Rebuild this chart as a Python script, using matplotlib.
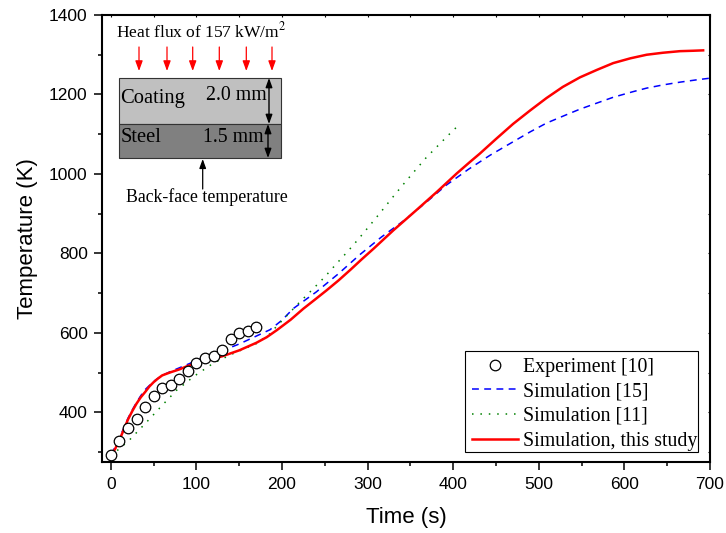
import matplotlib
matplotlib.use('Agg')
import matplotlib.pyplot as plt
from matplotlib.patches import Rectangle
from matplotlib.transforms import Affine2D
from matplotlib.ticker import MultipleLocator

# values
exp_time = [0, 10, 20, 30, 40, 50, 60, 70, 80, 90, 100, 110, 120, 130, 140, 150, 160, 170]
exp_temp = [292, 329, 361, 383, 414, 440, 462, 469, 483, 504, 524, 538, 543, 557, 584, 599, 604, 615]

sim15_time = [0, 5, 10, 15, 20, 25, 30, 35, 40, 50, 60, 70, 80, 100, 130, 150, 170, 186, 200, 213, 240, 266, 291, 316, 342, 367, 392, 418,
              443, 470, 490, 509, 530, 548, 570, 587, 610, 626, 645, 665, 685, 700]
sim15_temp = [295, 312, 335, 360, 385, 406, 425, 442, 457, 478, 493, 503, 512, 530, 555, 572, 592, 608, 632, 661, 703, 749, 797, 841, 882, 926, 972, 1012,
              1047, 1081, 1106, 1128, 1147, 1163, 1180, 1193, 1207, 1216, 1224, 1231, 1237, 1241]

sim11_time = [0, 22, 42, 61, 77, 98, 120, 143, 170, 186, 193, 205, 220, 235, 250, 264, 278, 290, 302, 315, 328, 341, 354, 368, 383, 394, 405]
sim11_temp = [290, 331, 376, 420, 456, 492, 524, 548, 573, 598, 615, 642, 676, 708, 741, 775, 808, 838, 869, 903, 938, 972, 1005, 1040, 1073, 1097, 1120]

this_time = [0, 5, 10, 15, 20, 25, 30, 35, 40, 45, 50, 55, 60, 70, 80, 90, 110, 130, 150, 170, 182, 194, 210, 225, 238, 252, 266, 280, 293, 307, 330, 357, 381, 404, 420,
             431, 450, 470, 490, 509, 528, 548, 568, 587, 607, 626, 645, 665, 680, 692]
this_temp = [290, 308, 330, 356, 382, 403, 422, 438, 451, 465, 476, 485, 493, 501, 508, 517, 530, 541, 556, 575, 589, 607, 633, 661, 683, 707, 732, 759, 785, 812, 858, 909, 955, 1001, 1031,
             1051, 1088, 1126, 1160, 1191, 1219, 1243, 1262, 1279, 1291, 1300, 1305, 1309, 1310, 1311]

xticks = [0, 100, 200, 300, 400, 500, 600, 700]
yticks = [400, 600, 800, 1000, 1200, 1400]

flux_arrows = [139, 167, 192.7, 219.3, 246.3, 272]

plt.rcParams['font.family'] = 'Liberation Sans'
plt.rcParams['mathtext.fontset'] = 'stix'

W, H = 726, 533
fig = plt.figure(figsize=(W / 100, H / 100), dpi=100)
ax = fig.add_axes([102.3 / W, 1 - 462 / H, (710 - 102.3) / W, (462 - 15) / H])

ax.plot(sim15_time, sim15_temp, color='#0000ff', lw=1.1, ls=(0, (4.5, 3.5)), label='Simulation [15]', zorder=2)
ax.plot(sim11_time, sim11_temp, color='#008000', lw=1.1, ls=(0, (1, 4.5)), label='Simulation [11]', zorder=2)
ax.plot(this_time, this_temp, color='#ff0000', lw=1.8, label='Simulation, this study', zorder=3)
ax.plot(exp_time, exp_temp, ls='none', marker='o', ms=7.6, mfc='white', mec='black', mew=0.9,
        label='Experiment [10]', zorder=4)

ax.set_xlim(-10, 700)
ax.set_ylim(275, 1400)
ax.set_xticks(xticks)
ax.set_yticks(yticks)
ax.xaxis.set_minor_locator(MultipleLocator(50))
ax.yaxis.set_minor_locator(MultipleLocator(100))
ax.tick_params(which='major', length=6, width=1.1, labelsize=12.5, pad=4.5)
ax.tick_params(which='minor', length=3, width=1.1)
ax.tick_params(which='both', top=False, right=False)
for s in ax.spines.values():
    s.set_linewidth(1.5)

# little ticks on the top and right edges
top = ax.secondary_xaxis('top')
top.set_xticks(xticks)
top.xaxis.set_minor_locator(MultipleLocator(50))
top.tick_params(which='both', direction='in', length=1.5, width=0.8, labeltop=False)
top.spines['top'].set_visible(False)
right = ax.secondary_yaxis('right')
right.set_yticks(yticks)
right.yaxis.set_minor_locator(MultipleLocator(100))
right.tick_params(which='both', direction='in', length=1.5, width=0.8, labelright=False)
right.spines['right'].set_visible(False)

ax.set_xlabel('Time (s)', fontsize=16, labelpad=11)
ax.set_ylabel('Temperature (K)', fontsize=16, labelpad=8)

# schematic and legend box, placed in image pixels
pix = Affine2D().scale(1, -1).translate(0, H)
serif = {'family': 'Liberation Serif', 'transform': pix}

handles, labels = ax.get_legend_handles_labels()
order = [3, 0, 1, 2]
leg = ax.legend([handles[i] for i in order], [labels[i] for i in order],
                loc='lower right', bbox_to_anchor=(702 / W, 1 - 455.5 / H), bbox_transform=fig.transFigure,
                prop={'family': 'Liberation Serif', 'size': 14.3}, frameon=False,
                labelspacing=0.28, borderpad=0.25,
                handlelength=2.3, handletextpad=0.25, borderaxespad=0, numpoints=1)
leg.set_zorder(6)
ax.add_patch(Rectangle((465, 351), 233, 101, fc='white', ec='black', lw=0.8, transform=pix, zorder=4.5))

ax.add_patch(Rectangle((119, 78), 162, 46.3, fc='#c0c0c0', ec='#333333', lw=0.8, transform=pix, zorder=5))
ax.add_patch(Rectangle((119, 124.3), 162, 33.7, fc='#808080', ec='#333333', lw=0.8, transform=pix, zorder=5))

for x in flux_arrows:
    ax.annotate('', xy=(x, 71), xytext=(x, 47), xycoords=pix, textcoords=pix, zorder=6,
                arrowprops=dict(arrowstyle='-|>,head_width=0.22,head_length=0.6', color='#ff0000', lw=0.9,
                                shrinkA=0, shrinkB=0))
for y0, y1, x in [(78, 124, 269), (124, 158, 268)]:
    ax.annotate('', xy=(x, y1), xytext=(x, y0), xycoords=pix, textcoords=pix, zorder=6,
                arrowprops=dict(arrowstyle='<|-|>,head_width=0.2,head_length=0.55', color='black', lw=1.0,
                                shrinkA=0, shrinkB=0))
ax.annotate('', xy=(202.7, 159), xytext=(202.7, 189), xycoords=pix, textcoords=pix, zorder=6,
            arrowprops=dict(arrowstyle='-|>,head_width=0.2,head_length=0.55', color='black', lw=0.9,
                            shrinkA=0, shrinkB=0))

ax.text(116.5, 37, 'Heat flux of 157 kW/m$^{2}$', fontsize=12.6, zorder=7, **serif)
ax.text(120, 103, 'Coating', fontsize=14.8, zorder=7, **serif)
ax.text(206, 100, '2.0 mm', fontsize=14.3, zorder=7, **serif)
ax.text(121, 142.5, 'Steel', fontsize=14.8, zorder=7, **serif)
ax.text(203, 142, '1.5 mm', fontsize=14.3, zorder=7, **serif)
ax.text(126.5, 201.7, 'Back-face temperature', fontsize=12.8, zorder=7, **serif)

fig.savefig('out.png', dpi=100)
